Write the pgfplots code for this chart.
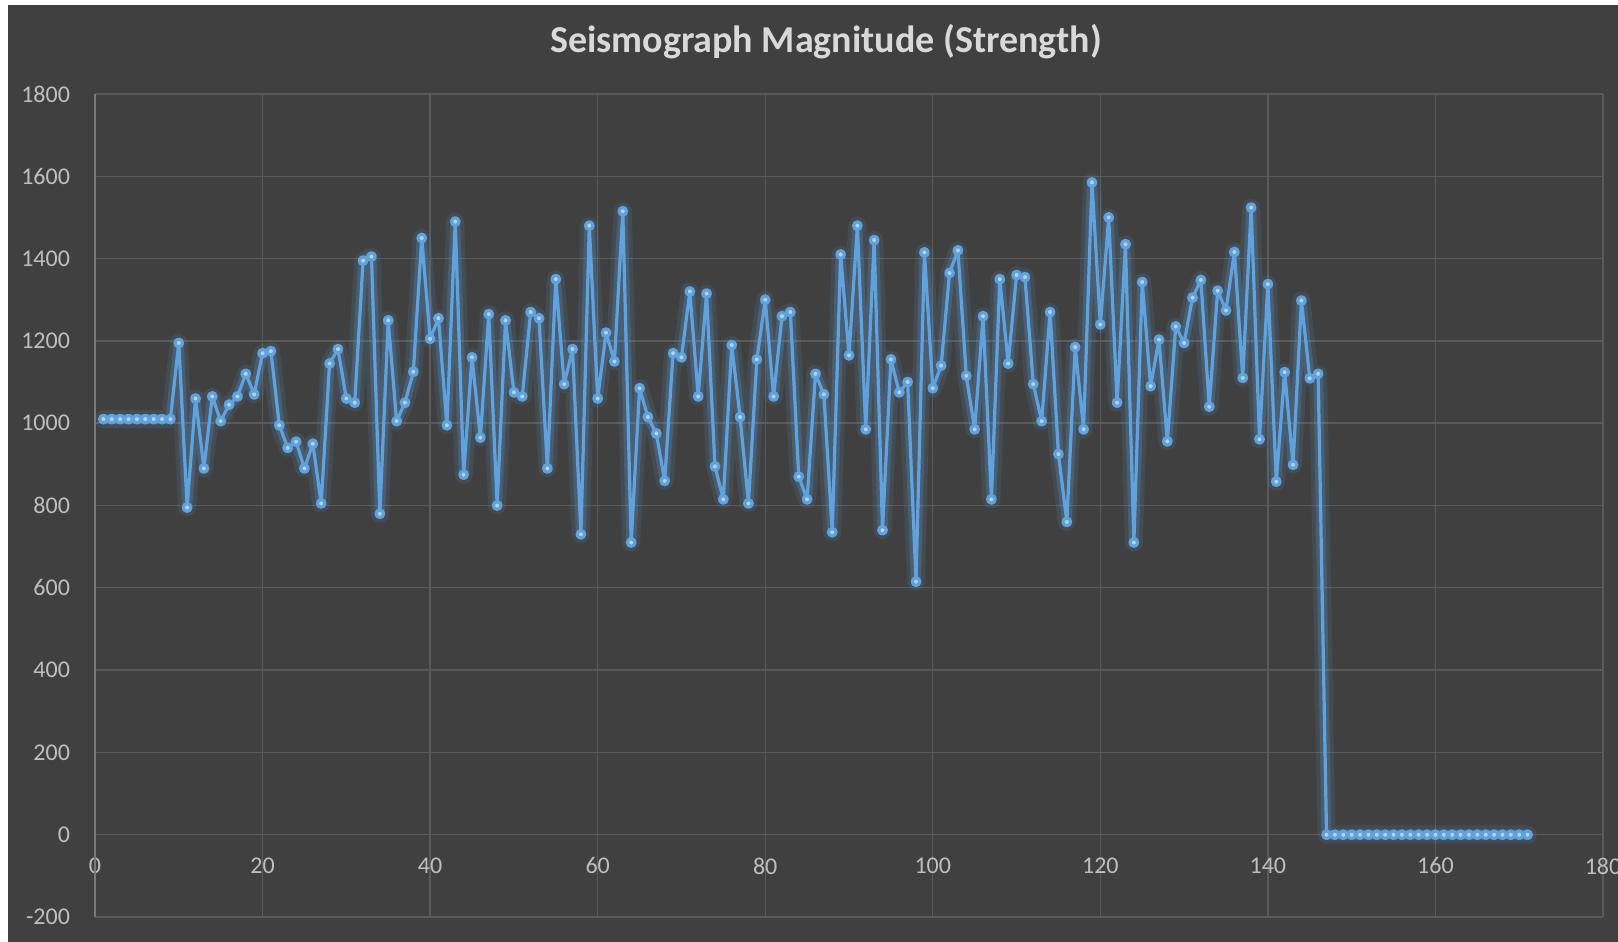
\documentclass[border=0pt]{standalone}
\usepackage{fontspec}
\setmainfont{Carlito}
\usepackage{pgfplots}
\pgfplotsset{compat=1.18}
\usepackage{pgfplotstable}
\definecolor{bg}{HTML}{404040}
\definecolor{gridc}{HTML}{5A5A5A}
\definecolor{ticklab}{HTML}{BFBFBF}
\definecolor{titlec}{HTML}{D9D9D9}
\definecolor{linec}{HTML}{5FA2DD}
\definecolor{markc}{HTML}{B4D5F3}
\definecolor{axc}{HTML}{7A7A7A}

\pgfplotstableread{
x y
1 1010
2 1010
3 1010
4 1010
5 1010
6 1010
7 1010
8 1010
9 1010
10 1195
11 795
12 1060
13 890
14 1065
15 1005
16 1045
17 1065
18 1120
19 1070
20 1170
21 1175
22 995
23 940
24 955
25 890
26 950
27 805
28 1145
29 1180
30 1060
31 1050
32 1395
33 1405
34 780
35 1250
36 1005
37 1050
38 1125
39 1450
40 1205
41 1255
42 995
43 1490
44 875
45 1160
46 965
47 1265
48 800
49 1250
50 1075
51 1065
52 1270
53 1255
54 890
55 1350
56 1095
57 1180
58 730
59 1480
60 1060
61 1220
62 1150
63 1515
64 710
65 1085
66 1015
67 975
68 860
69 1170
70 1160
71 1320
72 1065
73 1315
74 895
75 815
76 1190
77 1015
78 805
79 1155
80 1300
81 1065
82 1260
83 1270
84 870
85 815
86 1120
87 1070
88 735
89 1410
90 1165
91 1480
92 985
93 1445
94 740
95 1155
96 1075
97 1100
98 615
99 1415
100 1085
101 1140
102 1365
103 1420
104 1115
105 985
106 1260
107 815
108 1350
109 1145
110 1360
111 1355
112 1095
113 1005
114 1270
115 925
116 760
117 1185
118 985
119 1585
120 1240
121 1500
122 1050
123 1435
124 710
125 1343
126 1090
127 1203
128 956
129 1235
130 1195
131 1305
132 1348
133 1040
134 1322
135 1274
136 1416
137 1110
138 1524
139 961
140 1338
141 858
142 1124
143 899
144 1298
145 1109
146 1120
147 0
148 0
149 0
150 0
151 0
152 0
153 0
154 0
155 0
156 0
157 0
158 0
159 0
160 0
161 0
162 0
163 0
164 0
165 0
166 0
167 0
168 0
169 0
170 0
171 0
}\seis

\begin{document}
\begin{tikzpicture}
\fill[white] (0,0) rectangle (809pt,471pt);
\fill[bg] (4pt,0) rectangle (809pt,468.5pt);
\useasboundingbox (0,0) rectangle (809pt,471pt);
\begin{axis}[
  at={(47.5pt,12.5pt)}, anchor=south west,
  scale only axis, width=754pt, height=411.5pt,
  xmin=0, xmax=180, ymin=-200, ymax=1800,
  xtick distance=20, ytick distance=200,
  axis x line*=middle, axis y line*=left,
  hide obscured x ticks=false,
  axis line style={draw=none},
  major tick length=0pt,
  grid=major,
  major grid style={draw=gridc, line width=0.7pt},
  tick label style={text=ticklab, font=\fontsize{12}{14}\selectfont},
  /pgf/number format/assume math mode=true,
  /pgf/number format/1000 sep={},
  yticklabel style={xshift=-9pt},
  xticklabel style={yshift=-8pt},
  clip=false,
]
\draw[axc, line width=0.8pt] (axis cs:0,-200) -- (axis cs:0,1800);
\addplot[linec, opacity=0.12, line width=9pt, line join=round, line cap=round, no markers] table {\seis};
\addplot[linec, opacity=0.22, line width=5pt, line join=round, line cap=round, no markers] table {\seis};
\addplot[linec, line width=1.6pt, line join=round, mark=*, mark size=1.9pt,
  mark options={fill=markc, draw=none}] table {\seis};
\end{axis}
\node[font=\bfseries\fontsize{19}{22}\selectfont, text=titlec] at (413pt,450pt) {Seismograph Magnitude (Strength)};
\end{tikzpicture}
\end{document}
